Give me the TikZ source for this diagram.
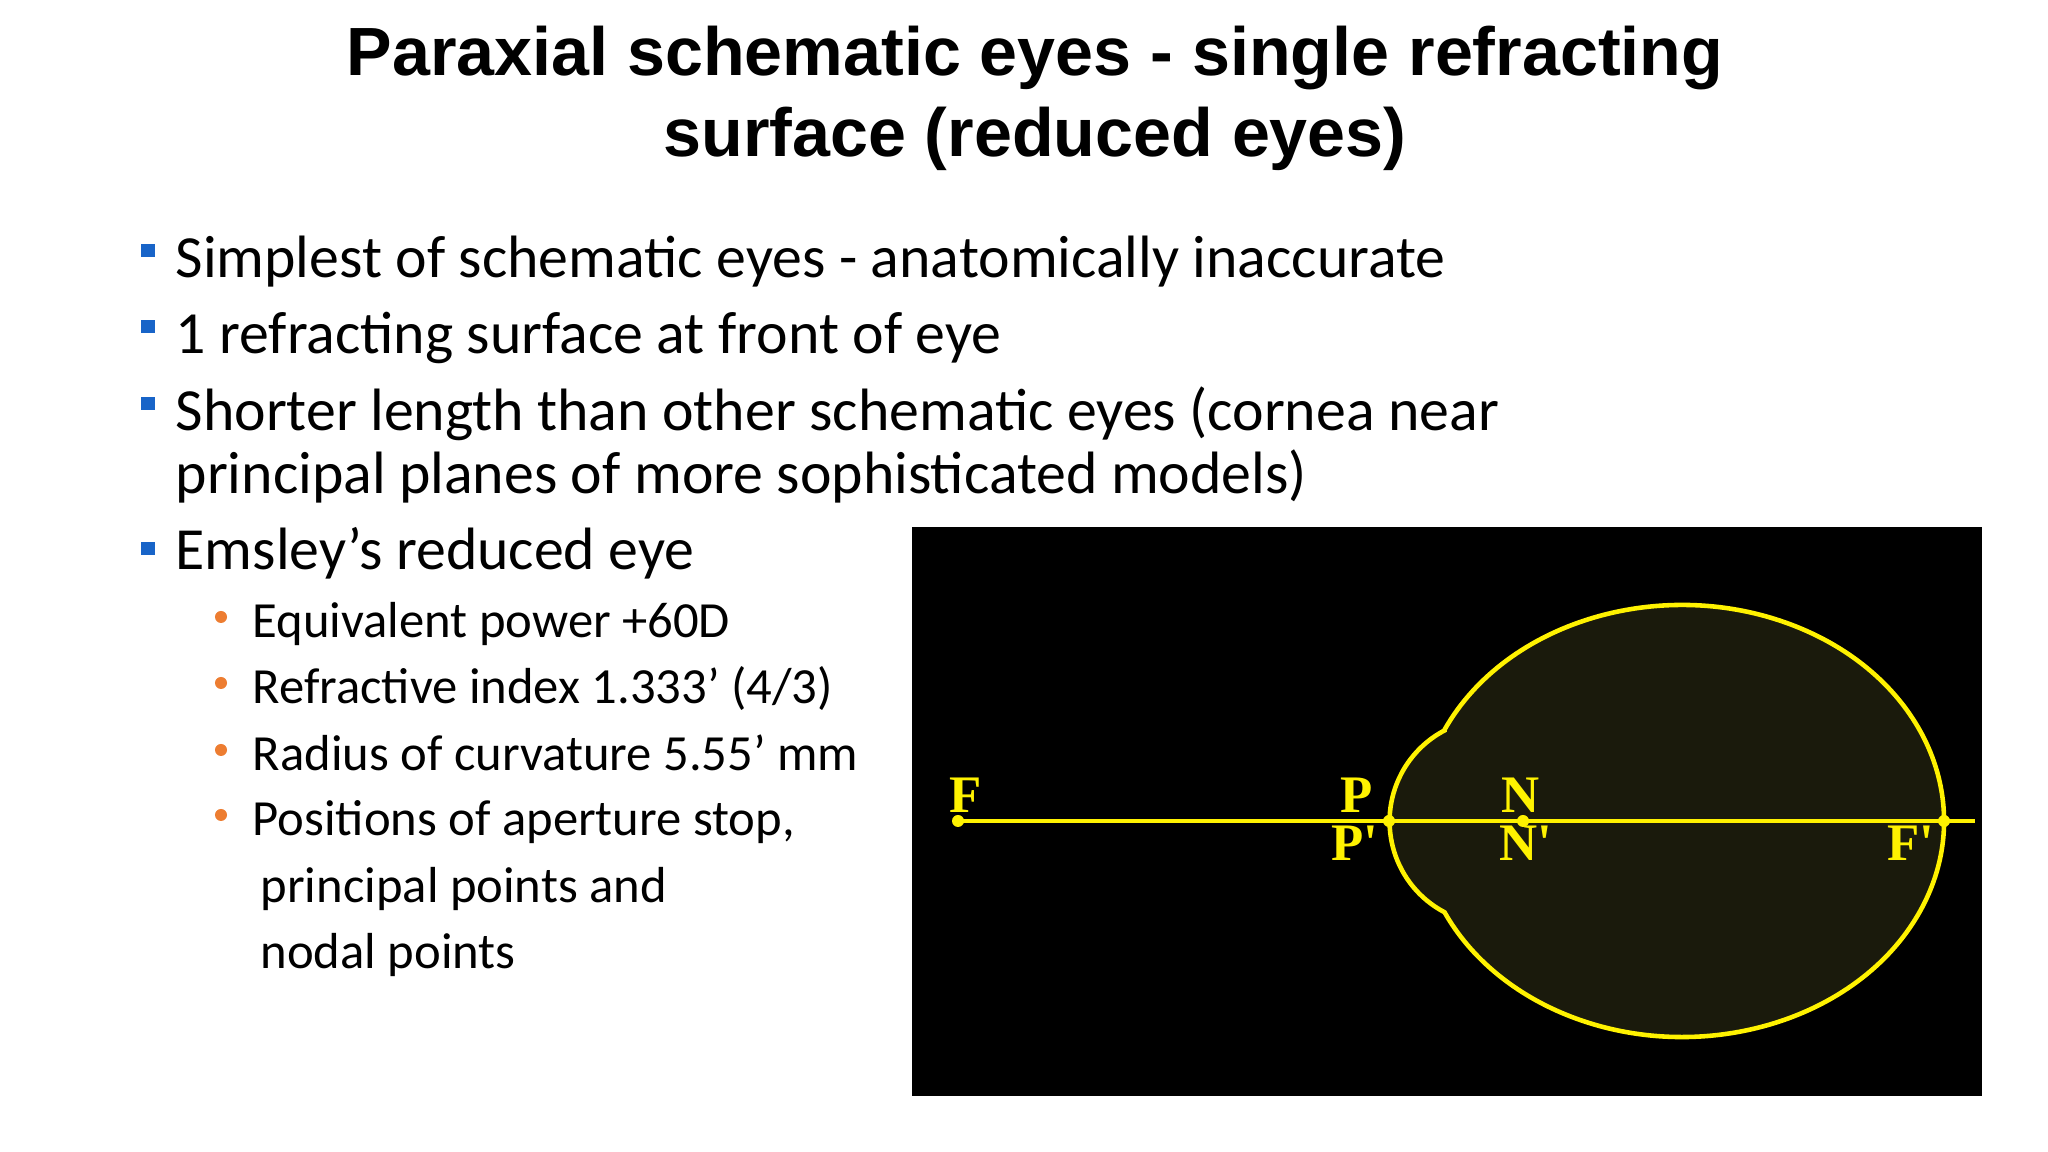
\documentclass[tikz,border=0pt]{standalone}
\usepackage{fontspec}
\setmainfont{Carlito}
\newfontfamily\titlefont{Liberation Sans}
\newfontfamily\eyefont{Liberation Serif}
\definecolor{eyefill}{RGB}{26,26,12}
\definecolor{sqblue}{RGB}{24,100,200}
\definecolor{dotorange}{RGB}{237,125,49}
\begin{document}
\begin{tikzpicture}[x=0.01cm,y=0.01cm,
  btext/.style={anchor=base west,inner sep=0,font=\fontsize{17}{21}\selectfont},
  stext/.style={anchor=base west,inner sep=0,font=\fontsize{14.4}{18}\selectfont},
  sq/.style={fill=sqblue,minimum size=0.13cm,inner sep=0},
  od/.style={circle,fill=dotorange,minimum size=0.12cm,inner sep=0},
  lab/.style={text=yellow,font=\eyefont\bfseries\fontsize{15}{17}\selectfont,inner sep=0},
  pt/.style={circle,fill=yellow,minimum size=0.12cm,inner sep=0}]
\useasboundingbox (0,0) rectangle (2048,1152);
\fill[white] (0,0) rectangle (2048,1152);
% title
\node[font=\titlefont\bfseries\fontsize{19.4}{23}\selectfont,align=center] (title) at (1035,1054) {Paraxial schematic eyes - single refracting\\surface (reduced eyes)};
% bullets
\node[btext] (b1) at (175,874) {Simplest of schematic eyes - anatomically inaccurate};
\node[btext] (b2) at (175,798) {1 refracting surface at front of eye};
\node[btext] (b3) at (175,721) {Shorter length than other schematic eyes (cornea near};
\node[btext] (b3b) at (175,658) {principal planes of more sophisticated models)};
\node[btext] (b4) at (175,582) {Emsley’s reduced eye};
\foreach \y in {901,825,748,603} \node[sq] at (148,\y) {};
\node[stext] (s1) at (252,514) {Equivalent power +60D};
\node[stext] (s2) at (252,448) {Refractive index 1.333' (4/3)};
\node[stext] (s3) at (252,381) {Radius of curvature 5.55' mm};
\node[stext] (s4) at (252,316) {Positions of aperture stop,};
\node[stext] (s5) at (260,249) {principal points and};
\node[stext] (s6) at (260,183) {nodal points};
\foreach \y in {535,469,402,337} \node[od] at (221,\y) {};
% black panel
\fill[black] (912,56) rectangle (1982,625);
% eye
\fill[eyefill] ({1682+262*cos(155)},{331+216*sin(155)})
  arc[x radius=262,y radius=216,start angle=155,end angle=-155]
  arc[radius=102.7,start angle=242.3,end angle=117.7] -- cycle;
\draw[yellow,line width=1.3pt] ({1682+262*cos(155)},{331+216*sin(155)})
  arc[x radius=262,y radius=216,start angle=155,end angle=-155]
  arc[radius=102.7,start angle=242.3,end angle=117.7] -- cycle;
\node[pt] (F) at (958,331) {};
\node[pt] (P) at (1389,331) {};
\node[pt] (N) at (1523,331) {};
\node[pt] (Fp) at (1944,331) {};
\coordinate (end) at (1975,331);
\draw[yellow,line width=1.3pt] (F.center) -- (end);
\node[lab] (lF) at (966,357) {F};
\node[lab] (lP) at (1357,357) {P};
\node[lab] (lN) at (1521,357) {N};
\node[lab] (lPp) at (1355,309) {P'};
\node[lab] (lNp) at (1526,309) {N'};
\node[lab] (lFp) at (1911,309) {F'};
\end{tikzpicture}
\end{document}
